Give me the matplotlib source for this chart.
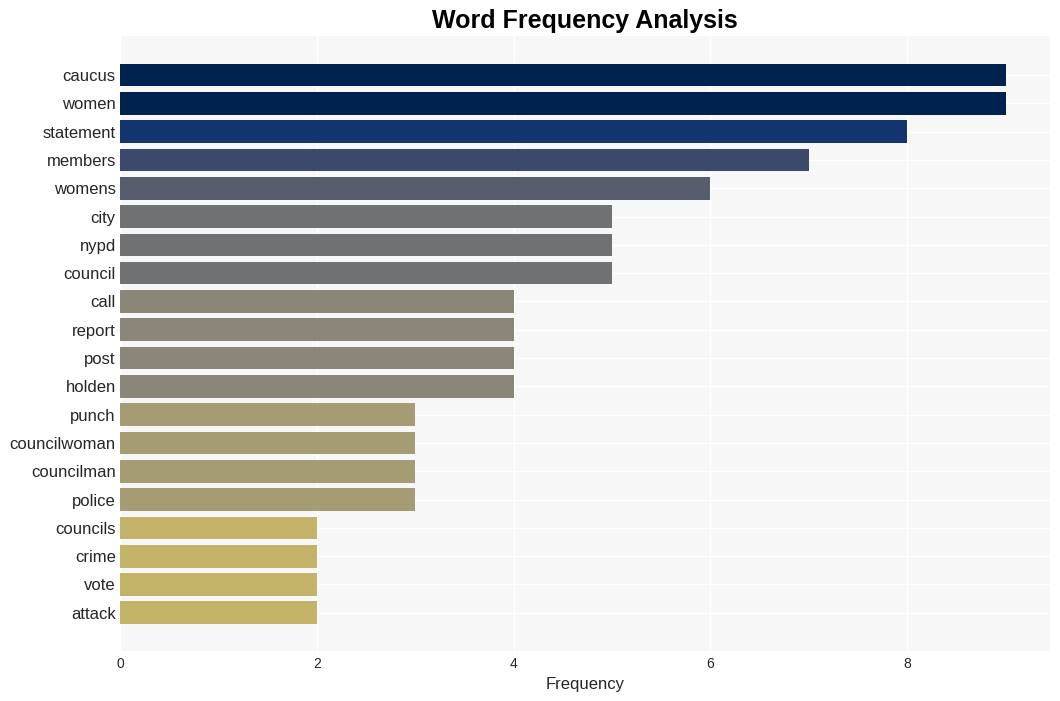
import matplotlib
matplotlib.use('Agg')
import matplotlib.pyplot as plt
import numpy as np

words = ['caucus', 'women', 'statement', 'members', 'womens', 'city', 'nypd',
         'council', 'call', 'report', 'post', 'holden', 'punch', 'councilwoman',
         'councilman', 'police', 'councils', 'crime', 'vote', 'attack']
counts = [9, 9, 8, 7, 6, 5, 5, 5, 4, 4, 4, 4, 3, 3, 3, 3, 2, 2, 2, 2]

plt.rcParams['font.family'] = ['Liberation Sans', 'DejaVu Sans']

fig = plt.figure(figsize=(10.6, 7.01), dpi=100)
ax = fig.add_axes([120/1060, 1 - 651/701, 930/1060, 615/701])

vals = np.array(counts)
colors = plt.cm.cividis(1 - vals / vals.max())
ypos = np.arange(len(words))

ax.set_facecolor('#f7f7f7')
ax.grid(True, color='white', linewidth=1)
ax.set_axisbelow(True)
ax.barh(ypos, vals, height=0.8, color=colors, zorder=2)

ax.set_yticks(ypos)
ax.set_yticklabels(words, fontsize=12, color='#262626')
ax.set_ylim(len(words) - 1 + 1.35, -1.38)
ax.set_xlim(0, vals.max() * 1.05)
ax.set_xticks([0, 2, 4, 6, 8])
ax.tick_params(axis='x', labelsize=10, colors='#262626', length=0, pad=4)
ax.tick_params(axis='y', length=0, pad=3)
for s in ax.spines.values():
    s.set_visible(False)

ax.set_xlabel('Frequency', fontsize=12, color='#262626', labelpad=5)
fig.text(585/1060, 1 - 21/701, 'Word Frequency Analysis', fontsize=18,
         fontweight='bold', ha='center', va='center')

fig.savefig('out.png', dpi=100)
